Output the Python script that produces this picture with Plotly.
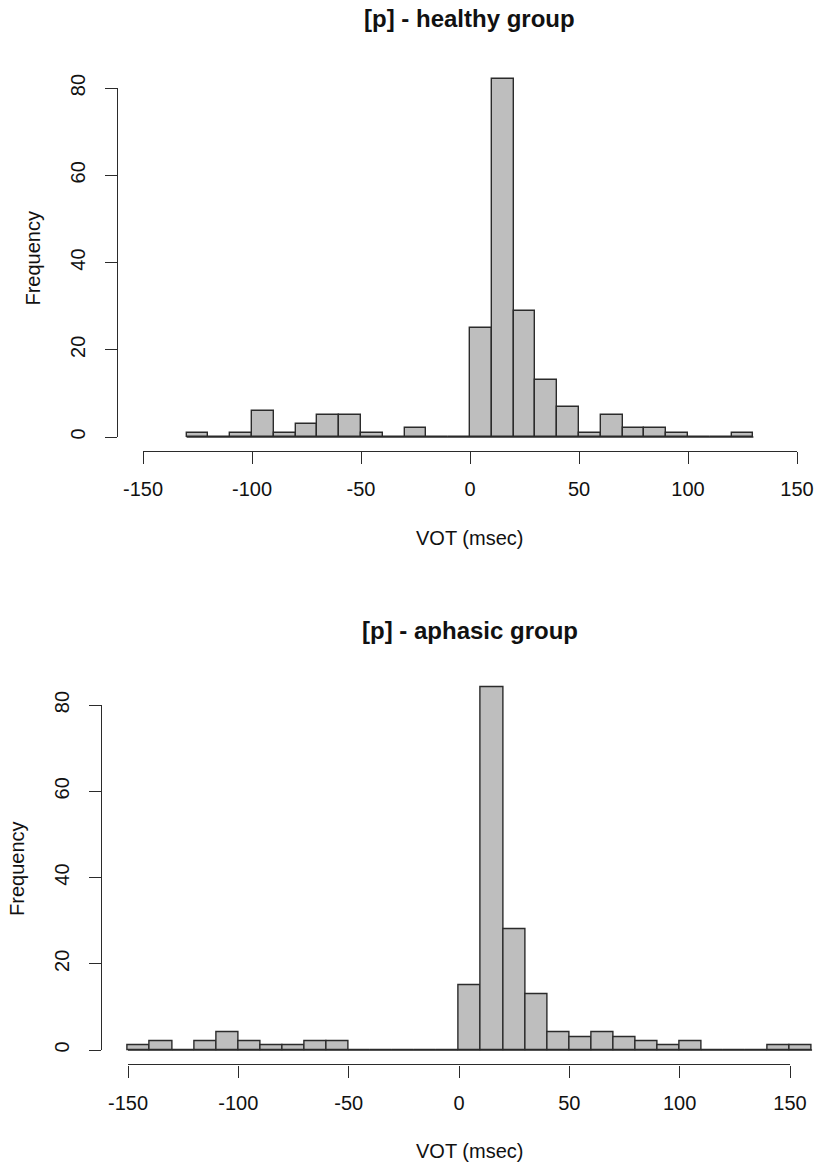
import plotly.graph_objects as go

# Page is 817x1169; the body margin is removed by a post script so the
# figure fills the whole window and reference pixels map 1:1.
PAGE_W, PAGE_H = 817, 1169
M = 0
W, H = PAGE_W - 2 * M, PAGE_H - 2 * M

# ---- data ----
healthy_edges = list(range(-130, 131, 10))
healthy_counts = [1, 0, 1, 6, 1, 3, 5, 5, 1, 0, 2, 0, 0,
                  25, 82, 29, 13, 7, 1, 5, 2, 2, 1, 0, 0, 1]
aphasic_edges = list(range(-150, 161, 10))
aphasic_counts = [1, 2, 0, 2, 4, 2, 1, 1, 2, 2, 0, 0, 0, 0, 0,
                  15, 84, 28, 13, 4, 3, 4, 3, 2, 1, 2, 0, 0, 0, 1, 1]
x_ticks = [-150, -100, -50, 0, 50, 100, 150]
y_ticks = [0, 20, 40, 60, 80]

FONT = "Liberation Sans, Arial, sans-serif"
BAR_FILL = "#BEBEBE"
EDGE = "#2b2b2b"
AX = "#2b2b2b"
FS = 20
TFS = 24


def px2paper_x(p):
    return min(max((p - M) / W, 0.0), 1.0)


def px2paper_y(p):
    return min(max(1 - (p - M) / H, 0.0), 1.0)


def lin(v0, v1, p0, p1):
    s = (p1 - p0) / (v1 - v0)
    f = lambda v: p0 + (v - v0) * s
    f.inv = lambda p: v0 + (p - p0) / s
    return f


def xdom(f, a, b):
    return [px2paper_x(f(a)), px2paper_x(f(b))]


def ydom(f, a, b):
    return [px2paper_y(f(a)), px2paper_y(f(b))]


fig = go.Figure()

# ----- top panel geometry (reference pixels) -----
tfx = lin(-150, 150, 143, 797)
tfy = lin(0, 80, 437, 88)
ty_rng = [-0.04 * max(healthy_counts), 1.04 * max(healthy_counts)]
t_xaxis_y = tfy(ty_rng[0])
t_yaxis_x = tfx(-162)

# ----- bottom panel geometry -----
bfx = lin(-150, 150, 128, 790)
bfy = lin(0, 80, 1050, 705)
by_rng = [-0.04 * max(aphasic_counts), 1.04 * max(aphasic_counts)]
bx_rng = [-152, min(162, bfx.inv(PAGE_W - M))]
b_xaxis_y = bfy(by_rng[0])
b_yaxis_x = bfx(-162.4)


def add_hist(edges, counts, xa, ya):
    centers = [(edges[i] + edges[i + 1]) / 2 for i in range(len(counts))]
    widths = [edges[i + 1] - edges[i] for i in range(len(counts))]
    fig.add_trace(go.Scatter(x=[edges[0], edges[-1]], y=[0, 0], mode="lines",
                             line=dict(color=EDGE, width=1.4), xaxis=xa, yaxis=ya,
                             hoverinfo="skip", showlegend=False))
    fig.add_trace(go.Bar(x=centers, y=counts, width=widths,
                         marker=dict(color=BAR_FILL, line=dict(color=EDGE, width=1.4)),
                         xaxis=xa, yaxis=ya, showlegend=False))


add_hist(healthy_edges, healthy_counts, "x", "y")
add_hist(aphasic_edges, aphasic_counts, "x3", "y3")

# empty traces so that the tick axes are drawn
fig.add_trace(go.Scatter(x=[None], y=[None], xaxis="x2", yaxis="y2", showlegend=False))
fig.add_trace(go.Scatter(x=[None], y=[None], xaxis="x4", yaxis="y4", showlegend=False))

tickfont = dict(family=FONT, size=FS, color="#111111")
common = dict(showline=True, linecolor=AX, linewidth=1.2, ticks="outside",
              ticklen=12, tickcolor=AX, tickwidth=1.2, showgrid=False,
              zeroline=False, tickfont=tickfont, automargin=False)
xtick_common = dict(tickmode="array", tickvals=x_ticks,
                    ticktext=[str(v) for v in x_ticks],
                    ticklabelstandoff=8, **common)
ytick_common = dict(tickmode="array", tickvals=y_ticks,
                    ticktext=[str(v) for v in y_ticks], tickangle=-90,
                    ticklabelstandoff=12, **common)
hidden = dict(visible=False, automargin=False, showgrid=False, zeroline=False)

fig.update_layout(
    xaxis=dict(domain=xdom(tfx, -150, 150), range=[-150, 150], anchor="y", **hidden),
    yaxis=dict(domain=ydom(tfy, ty_rng[0], ty_rng[1]), range=ty_rng, anchor="x", **hidden),
    xaxis2=dict(domain=xdom(tfx, -150, 150), range=[-150, 150], anchor="free",
                position=px2paper_y(t_xaxis_y), **xtick_common),
    yaxis2=dict(domain=ydom(tfy, 0, 80), range=[0, 80], anchor="free",
                position=px2paper_x(t_yaxis_x), **ytick_common),
    xaxis3=dict(domain=xdom(bfx, bx_rng[0], bx_rng[1]), range=bx_rng, anchor="y3", **hidden),
    yaxis3=dict(domain=ydom(bfy, by_rng[0], by_rng[1]), range=by_rng, anchor="x3", **hidden),
    xaxis4=dict(domain=xdom(bfx, -150, 150), range=[-150, 150], anchor="free",
                position=px2paper_y(b_xaxis_y), **xtick_common),
    yaxis4=dict(domain=ydom(bfy, 0, 80), range=[0, 80], anchor="free",
                position=px2paper_x(b_yaxis_x), **ytick_common),
)

annots = [
    dict(text="<b>[p] - healthy group</b>", x=470, y=19, size=TFS),
    dict(text="VOT (msec)", x=470, y=538, size=FS),
    dict(text="Frequency", x=33, y=tfy(40.9), size=FS, angle=-90),
    dict(text="<b>[p] - aphasic group</b>", x=470, y=630, size=TFS),
    dict(text="VOT (msec)", x=470, y=1151, size=FS),
    dict(text="Frequency", x=17, y=bfy(42), size=FS, angle=-90),
]
for a in annots:
    fig.add_annotation(text=a["text"], x=px2paper_x(a["x"]), y=px2paper_y(a["y"]),
                       xref="paper", yref="paper",
                       xanchor="center", yanchor="middle", showarrow=False,
                       textangle=a.get("angle", 0),
                       font=dict(family=FONT, size=a["size"], color="#111111"))

fig.update_layout(width=W, height=H, margin=dict(l=0, r=0, t=0, b=0, autoexpand=False),
                  paper_bgcolor="white", plot_bgcolor="rgba(0,0,0,0)",
                  bargap=0, showlegend=False)

fig.write_html("out.html", config={"displayModeBar": False},
               post_script="document.body.style.margin='0';"
                           "document.body.style.overflow='hidden';")
